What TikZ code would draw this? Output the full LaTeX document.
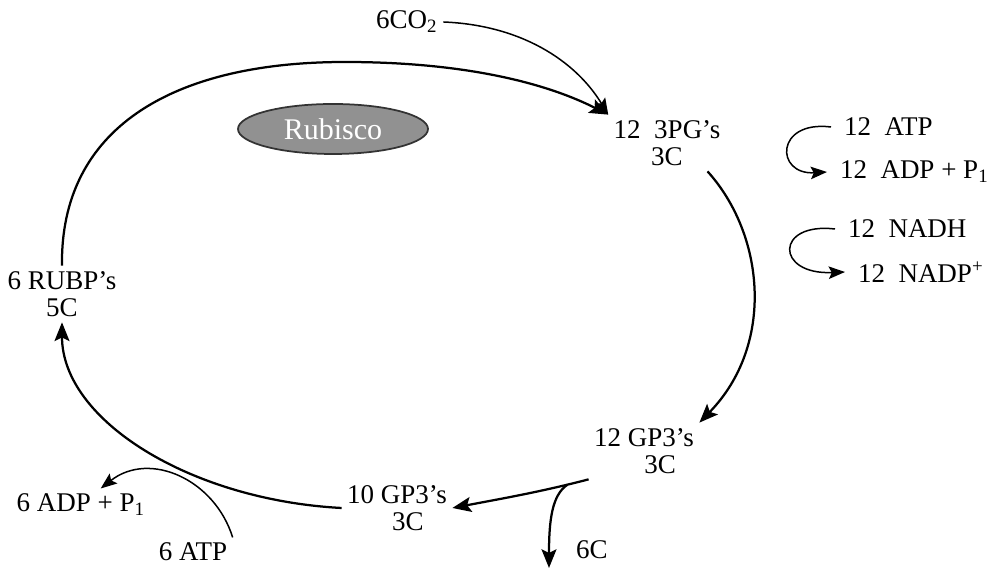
\documentclass[tikz,border=0pt]{standalone}
\usepackage{fontspec}
\setmainfont{Liberation Serif}
\usetikzlibrary{arrows.meta,shapes.geometric,positioning}
\tikzset{
  ccspecies/.style={align=center,inner sep=2pt,font=\fontsize{10.8}{11}\selectfont},
  ccside/.style={anchor=west,inner sep=5pt,font=\fontsize{10.8}{11}\selectfont},
  ccenzyme/.style={
    ellipse, draw=black!80, fill=black!43, line width=0.7pt,
    minimum width=76pt, minimum height=20pt, inner sep=0pt,
    text=white, font=\fontsize{12}{12}\selectfont
  },
  ccedge/.style={-{Stealth[length=7.5pt,width=6pt,inset=1.5pt]},line width=0.9pt},
  ccfeed/.style={-{Stealth[length=6.5pt,width=5pt,inset=1.2pt]},line width=0.6pt}
}
\begin{document}
\begin{tikzpicture}[x=0.4pt,y=-0.4pt]
  \useasboundingbox (0,0) rectangle (988,570);
  \node[ccspecies] (co2) at (407,22) {6CO\textsubscript{2}};
  \node[ccenzyme] (rubisco) at (333,129) {Rubisco};
  \node[ccspecies] (pga) at (667,143) {12\ \ 3PG's\\3C};
  \node[ccspecies] (gpa) at (644,451) {12 GP3's\\\hspace*{1.2em}3C};
  \node[ccspecies] (gpb) at (397,508) {10 GP3's\\\hspace*{0.8em}3C};
  \node[ccspecies] (rubp) at (62,294) {6 RUBP's\\5C};
  \node[ccspecies] (adpsix) at (81,505) {6 ADP + P\textsubscript{1}};
  \node[ccspecies] (atpsix) at (193,552) {6 ATP};
  \node[ccspecies] (sixc) at (592,550) {6C};
  \coordinate (cend) at (549,568);
  \node[ccside] (atp) at (831,127) {12\ \ ATP};
  \node[ccside] (adp) at (827,172) {12\ \ ADP + P\textsubscript{1}};
  \node[ccside] (nadh) at (835,229) {12\ \ NADH};
  \node[ccside] (nadp) at (845,272) {12\ \ NADP\textsuperscript{+}};
  \draw[ccfeed] (co2.east) .. controls (520,25) and (575,60) .. (pga.north west);
  \draw[ccedge] (rubp.north) .. controls (60,130) and (170,62) .. (345,62)
    .. controls (470,62) and (550,85) .. (pga.north west);
  \draw[ccedge] (pga.-35) .. controls (765,235) and (775,345) .. (gpa.north east);
  \draw[ccedge] (gpa.south west) .. controls (540,492) and (505,498)
    .. coordinate[pos=0.15] (split) (gpb.east);
  \draw[ccedge] (split) .. controls (552,495) and (549,520) .. (cend);
  \draw[ccedge] (gpb.west) .. controls (190,500) and (62,420) .. (rubp.south);
  \draw[ccfeed] (atpsix.north east) .. controls (215,480) and (150,450) .. (adpsix.40);
  \draw[ccfeed] (atp.west) .. controls (775,120) and (775,175) .. (adp.west);
  \draw[ccfeed] (nadh.west) .. controls (775,222) and (775,275) .. (nadp.west);
\end{tikzpicture}
\end{document}
